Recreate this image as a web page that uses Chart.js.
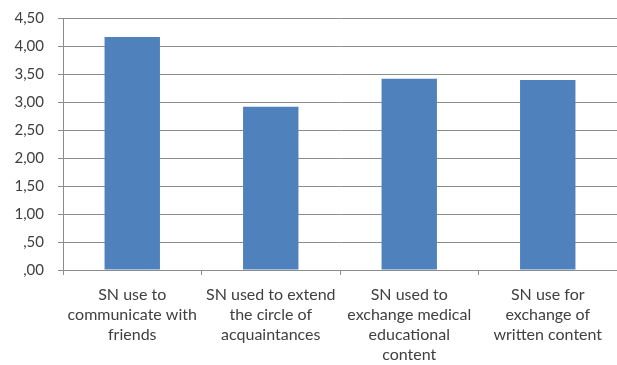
<!DOCTYPE html>
<html>
<head>
<meta charset="utf-8">
<script src="https://cdn.jsdelivr.net/npm/chart.js@4/dist/chart.umd.min.js"></script>
<style>
  html, body { margin: 0; padding: 0; background: #fff; }
  #wrap { width: 617px; height: 365px; position: relative; }
</style>
</head>
<body>
<div id="wrap"><canvas id="c" width="617" height="365"></canvas></div>
<script>
const categories = [
  ["SN use to", "communicate with", "friends"],
  ["SN used to extend", "the circle of", "acquaintances"],
  ["SN used to", "exchange medical", "educational", "content"],
  ["SN use for", "exchange of", "written content"]
];
const values = [4.17, 2.92, 3.42, 3.40];
const yTicks = [0, 0.5, 1, 1.5, 2, 2.5, 3, 3.5, 4, 4.5];

const fontFamily = "Lato, 'Open Sans', sans-serif";
const textColor = "#404040";
const gridColor = "#8c8c8c";

function fmt(v) {
  return v.toFixed(2).replace('.', ',').replace(/^0/, '');
}

new Chart(document.getElementById('c'), {
  type: 'bar',
  data: {
    labels: categories,
    datasets: [{
      data: values,
      backgroundColor: '#4F81BD',
      borderWidth: 0,
      barPercentage: 0.4,
      categoryPercentage: 1.0
    }]
  },
  options: {
    responsive: false,
    animation: false,
    devicePixelRatio: 1,
    layout: { padding: { top: 0, right: 0, left: 0, bottom: 0 } },
    plugins: { legend: { display: false }, tooltip: { enabled: false } },
    scales: {
      x: {
        offset: true,
        grid: {
          offset: true,
          drawOnChartArea: false,
          drawTicks: true,
          tickLength: 5,
          color: gridColor
        },
        border: { display: true, color: gridColor, width: 1 },
        ticks: {
          color: textColor,
          font: { family: fontFamily, size: 16, lineHeight: 1.25 },
          maxRotation: 0,
          autoSkip: false,
          padding: 10
        },
        afterFit: s => { s.height = 95; }
      },
      y: {
        min: 0,
        max: 4.5,
        afterBuildTicks: s => { s.ticks = yTicks.map(v => ({ value: v })); },
        grid: {
          color: gridColor,
          drawTicks: true,
          tickLength: 5
        },
        border: { display: true, color: gridColor, width: 1 },
        ticks: {
          color: textColor,
          font: { family: fontFamily, size: 15, lineHeight: 0.6 },
          padding: 14,
          callback: v => fmt(v)
        },
        afterFit: s => { s.width = 63; }
      }
    }
  }
});
</script>
</body>
</html>
